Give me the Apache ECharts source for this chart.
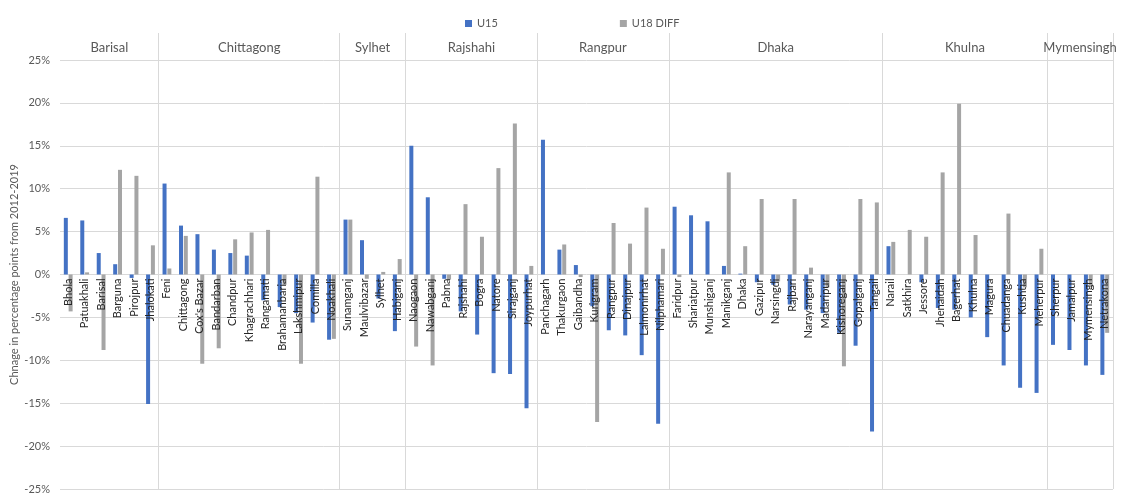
<!DOCTYPE html>
<html>
<head>
<meta charset="utf-8">
<script src="https://cdn.jsdelivr.net/npm/echarts@6/dist/echarts.min.js"></script>
<style>
html,body{margin:0;padding:0;background:#fff;}
#chart{width:1124px;height:494px;}
</style>
</head>
<body>
<div id="chart"></div>
<script>
const divisions = ['Barisal','Chittagong','Sylhet','Rajshahi','Rangpur','Dhaka','Khulna','Mymensingh'];
const divisionSizes = [6, 11, 4, 8, 8, 13, 10, 4];
const districts = [
  'Bhola','Patuakhali','Barisal','Barguna','Pirojpur','Jhalokati',
  'Feni','Chittagong',"Cox's Bazar",'Bandarban','Chandpur','Khagrachhari','Rangamati','Brahamanbaria','Lakshmipur','Comilla','Noakhali',
  'Sunamganj','Maulvibazar','Sylhet','Habiganj',
  'Naogaon','Nawabganj','Pabna','Rajshahi','Bogra','Natore','Sirajganj','Joypurhat',
  'Panchagarh','Thakurgaon','Gaibandha','Kurigram','Rangpur','Dinajpur','Lalmonirhat','Nilphamari',
  'Faridpur','Shariatpur','Munshiganj','Manikganj','Dhaka','Gazipur','Narsingdi','Rajbari','Narayanganj','Madaripur','Kishoreganj','Gopalganj','Tangail',
  'Narail','Satkhira','Jessore','Jhenaidah','Bagerhat','Khulna','Magura','Chuadanga','Kushtia','Meherpur',
  'Sherpur','Jamalpur','Mymensingh','Netrakona'
];
const u15 = [
  6.6, 6.3, 2.5, 1.2, -0.4, -15.1,
  10.6, 5.7, 4.7, 2.9, 2.5, 2.2, -3.0, -3.8, -4.5, -5.6, -7.6,
  6.4, 4.0, -2.8, -6.6,
  15.0, 9.0, -0.5, -4.3, -7.0, -11.5, -11.6, -15.6,
  15.7, 2.9, 1.1, -3.7, -6.5, -7.1, -9.4, -17.4,
  7.9, 6.9, 6.2, 1.0, 0.1, -0.9, -1.2, -3.5, -4.1, -4.5, -6.8, -8.3, -18.3,
  3.3, 0, -0.9, -3.9, -4.1, -5.0, -7.3, -10.6, -13.2, -13.8,
  -8.2, -8.8, -10.6, -11.7
];
const u18diff = [
  -4.3, 0.25, -8.8, 12.2, 11.5, 3.4,
  0.7, 4.5, -10.4, -8.6, 4.1, 4.9, 5.2, -1.2, -10.4, 11.4, -7.5,
  6.4, -0.5, 0.3, 1.8,
  -8.4, -10.6, -0.6, 8.2, 4.4, 12.4, 17.6, 1.0,
  0, 3.5, -0.3, -17.2, 6.0, 3.6, 7.8, 3.0,
  -0.3, 0, 0, 11.9, 3.3, 8.8, -0.8, 8.8, 0.8, -1.5, -10.7, 8.8, 8.4,
  3.8, 5.2, 4.4, 11.9, 19.9, 4.6, 0, 7.1, -1.5, 3.0,
  0, 0, -1.5, -6.8
];
const yTicks = {min: -25, max: 25, step: 5};

// division boundaries and centers derived from sizes
const starts = [];
let acc = 0;
divisionSizes.forEach(s => { starts.push(acc); acc += s; });
const centers = divisionSizes.map((s, i) => starts[i] + s / 2);
const boundarySet = new Set(starts.slice(1));

const FONT = 'Lato';
const chart = echarts.init(document.getElementById('chart'));
const L = 60, R = 11, TOP = 60, BOTTOM = 5, H = 494;
// zero line of the main grid (label grid ends there so its axis labels hang from 0%)
const zeroY = TOP + (H - TOP - BOTTOM) * (yTicks.max / (yTicks.max - yTicks.min));
chart.setOption({
  animation: false,
  legend: {
    data: ['U15', 'U18 DIFF'],
    left: 460, top: 13,
    icon: 'rect', itemWidth: 7, itemHeight: 7, itemGap: 122,
    textStyle: {fontSize: 11, color: '#595959', fontFamily: FONT}
  },
  grid: [
    {left: L, right: R, top: TOP, bottom: BOTTOM, outerBoundsMode: 'none', containLabel: false},
    {left: L, right: R, top: 33, bottom: BOTTOM, outerBoundsMode: 'none', containLabel: false},
    {left: L, right: R, top: TOP, bottom: H - zeroY, outerBoundsMode: 'none', containLabel: false}
  ],
  xAxis: [
    {
      type: 'category', gridIndex: 0, data: districts, position: 'bottom',
      axisLine: {show: false}, axisTick: {show: false}, axisLabel: {show: false},
      splitLine: {show: false}
    },
    {
      type: 'value', gridIndex: 0, position: 'top', min: 0, max: districts.length, interval: 0.5,
      axisLine: {show: false, onZero: false}, axisTick: {show: false}, splitLine: {show: false},
      axisLabel: {
        margin: 6, fontSize: 13, color: '#595959', fontFamily: FONT,
        showMinLabel: true, showMaxLabel: true,
        formatter: function (v) {
          for (let i = 0; i < centers.length; i++) {
            if (Math.abs(centers[i] - v) < 1e-6) return divisions[i];
          }
          return '';
        }
      }
    },
    {
      type: 'category', gridIndex: 1, data: districts,
      axisLine: {show: false, onZero: false}, axisTick: {show: false}, axisLabel: {show: false},
      splitLine: {
        show: true,
        interval: function (index) { return boundarySet.has(index); },
        lineStyle: {color: '#D9D9D9', width: 1}
      }
    },
    {
      type: 'category', gridIndex: 2, data: districts, position: 'bottom', z: 5,
      axisLine: {show: false, onZero: false}, axisTick: {show: false},
      axisLabel: {interval: 0, rotate: 90, margin: 4, fontSize: 11, color: '#262626', fontFamily: FONT},
      splitLine: {show: false}
    }
  ],
  yAxis: [
    {
      type: 'value', gridIndex: 0, min: yTicks.min, max: yTicks.max, interval: yTicks.step,
      name: 'Chnage in percentage points from 2012-2019',
      nameLocation: 'middle', nameGap: 40, nameRotate: 90, nameMoveOverlap: false,
      nameTextStyle: {fontSize: 11, color: '#595959', fontFamily: FONT},
      axisLine: {show: false, onZero: false}, axisTick: {show: false},
      axisLabel: {formatter: '{value}%', fontSize: 11, color: '#595959', margin: 10, fontFamily: FONT},
      splitLine: {lineStyle: {color: '#D9D9D9'}}
    },
    {type: 'value', gridIndex: 1, show: false, axisLine: {onZero: false}, splitLine: {show: false}},
    {type: 'value', gridIndex: 2, show: false, axisLine: {onZero: false}, splitLine: {show: false}}
  ],
  series: [
    {name: 'U15', type: 'bar', xAxisIndex: 0, yAxisIndex: 0, data: u15,
     barWidth: 4, barGap: '20%', itemStyle: {color: '#4472C4'}},
    {name: 'U18 DIFF', type: 'bar', xAxisIndex: 0, yAxisIndex: 0, data: u18diff,
     barWidth: 4, barGap: '20%', itemStyle: {color: '#A5A5A5'}}
  ]
});
</script>
</body>
</html>
